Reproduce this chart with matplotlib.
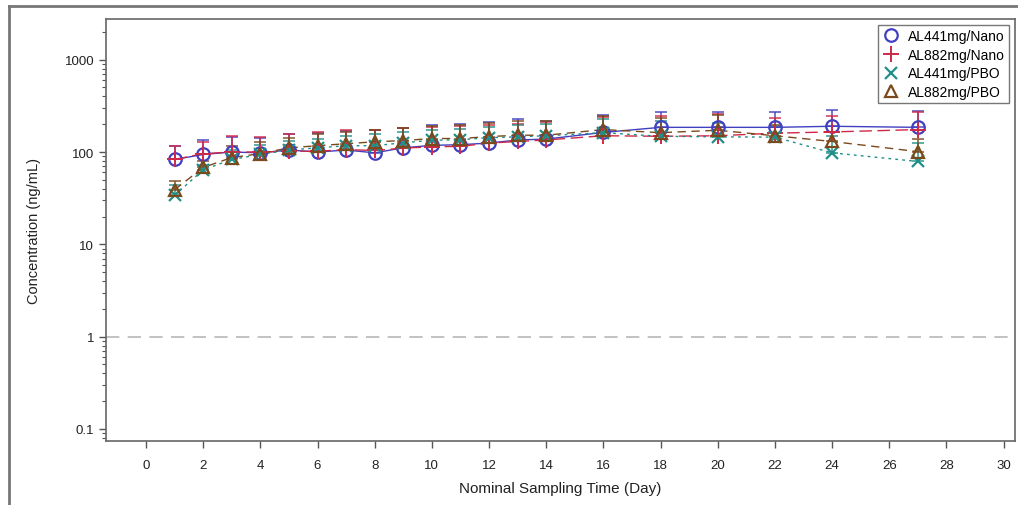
import matplotlib
matplotlib.use("Agg")
import matplotlib.pyplot as plt
from matplotlib.lines import Line2D
from matplotlib.ticker import LogLocator, FixedLocator, FixedFormatter, NullFormatter

plt.rcParams['font.family'] = ['Liberation Sans', 'DejaVu Sans']

# sampling days
days = [1, 2, 3, 4, 5, 6, 7, 8, 9, 10, 11, 12, 13, 14, 16, 18, 20, 22, 24, 27]

# mean concentrations (ng/mL)
al441_nano = [83, 94, 100, 98, 105, 100, 105, 98, 111, 118, 120, 125, 135, 138, 163, 185, 185, 185, 190, 185]
al882_nano = [83, 96, 100, 100, 102, 102, 106, 104, 110, 114, 115, 125, 130, 135, 150, 148, 150, 160, 165, 175]
al441_pbo = [34, 64, 83, 94, 105, 111, 117, 117, 126, 134, 136, 143, 146, 150, 162, 148, 146, 145, 98, 79]
al882_pbo = [39, 68, 87, 96, 111, 117, 123, 129, 133, 140, 140, 147, 152, 152, 175, 162, 172, 150, 130, 101]

# upper error bar ends (mean + SD)
al441_nano_up = [117, 136, 147, 143, 155, 162, 170, 175, 184, 198, 202, 212, 225, 218, 254, 274, 268, 274, 288, 280]
al882_nano_up = [117, 129, 150, 147, 158, 166, 175, 175, 180, 188, 193, 198, 202, 212, 240, 245, 255, 235, 245, 274]
al441_pbo_up = [44, 73, 106, 118, 132, 140, 150, 158, 165, 172, 178, 185, 195, 200, 225, 215, 205, 190, 150, 125]
al882_pbo_up = [48, 79, 117, 128, 143, 155, 166, 175, 184, 193, 198, 207, 218, 218, 248, 235, 250, 198, 166, 140]

labels = ['AL441mg/Nano', 'AL882mg/Nano', 'AL441mg/PBO', 'AL882mg/PBO']
colors = ['#4040c0', '#d02848', '#1f8f88', '#7a4a1c']

fig = plt.figure(figsize=(10.18, 5.06), dpi=100)
ax = fig.add_axes([106 / 1018, 1 - 442 / 506, (1015 - 106) / 1018, (442 - 20) / 506])

series = [
    (al441_nano, al441_nano_up, 'o', '-', dict(markerfacecolor='none', markersize=9, markeredgewidth=1.6)),
    (al882_nano, al882_nano_up, '+', (0, (9, 4)), dict(markersize=11, markeredgewidth=1.4)),
    (al441_pbo, al441_pbo_up, 'x', (0, (2, 3)), dict(markersize=9, markeredgewidth=1.6)),
    (al882_pbo, al882_pbo_up, '^', (0, (6, 4)), dict(markerfacecolor='none', markersize=8, markeredgewidth=1.6)),
]

handles = []
for (y, up, mk, ls, mkw), lab, c in zip(series, labels, colors):
    err_up = [u - v for u, v in zip(up, y)]
    err_lo = [0] * len(y)
    ax.errorbar(days, y, yerr=[err_lo, err_up], fmt='none', ecolor=c, elinewidth=1.2,
                capsize=4, capthick=1.2, alpha=0.85, zorder=2)
    ax.plot(days, y, color=c, linestyle=ls, linewidth=1.0, zorder=3)
    ax.plot(days, y, color=c, linestyle='none', marker=mk, markeredgecolor=c, zorder=4, **mkw)
    handles.append(Line2D([], [], color=c, linestyle='none', marker=mk, markeredgecolor=c, **mkw))

ax.axhline(1, color='#b8b8b8', linestyle=(0, (8, 5)), linewidth=1.2, zorder=1)

ax.set_yscale('log')
ax.set_ylim(0.074, 2760)
ax.set_xlim(-1.4, 30.4)

ax.xaxis.set_major_locator(FixedLocator(list(range(0, 31, 2))))
ax.yaxis.set_major_locator(FixedLocator([0.1, 1, 10, 100, 1000]))
ax.yaxis.set_major_formatter(FixedFormatter(['0.1', '1', '10', '100', '1000']))
ax.yaxis.set_minor_locator(LogLocator(base=10, subs=range(2, 10)))
ax.yaxis.set_minor_formatter(NullFormatter())

ax.tick_params(axis='both', which='major', labelsize=9.5, length=5, width=1, color='#555555',
               labelcolor='#222222')
ax.tick_params(axis='y', which='minor', length=3, width=0.8, color='#555555')
ax.tick_params(axis='x', pad=8)

for sp in ax.spines.values():
    sp.set_color('#666666')
    sp.set_linewidth(1.2)

ax.set_xlabel('Nominal Sampling Time (Day)', fontsize=11, color='#222222', labelpad=7)
ax.set_ylabel('Concentration (ng/mL)', fontsize=10.5, color='#222222', labelpad=17)

leg = ax.legend(handles, labels, loc='upper right', fontsize=10, frameon=True, fancybox=False,
                borderpad=0.3, labelspacing=0.35, handletextpad=0.6, handlelength=1.3,
                borderaxespad=0.4)
leg.get_frame().set_edgecolor('#555555')
leg.get_frame().set_linewidth(1.0)

# outer frame around the graph
fig.add_artist(Line2D([9 / 1018, 9 / 1018], [0, 1 - 7 / 506], transform=fig.transFigure,
                      color='#777777', linewidth=2))
fig.add_artist(Line2D([9 / 1018, 1], [1 - 7 / 506, 1 - 7 / 506], transform=fig.transFigure,
                      color='#777777', linewidth=2))

fig.savefig('out.png', dpi=100)
